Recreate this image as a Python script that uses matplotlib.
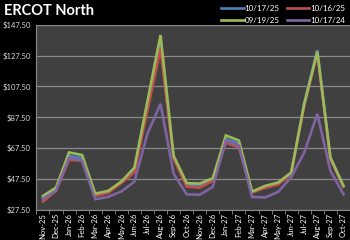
import numpy as np
import matplotlib.pyplot as plt

plt.rcParams['font.family'] = ['Lato', 'DejaVu Sans']

months = ["Nov-25", "Dec-25", "Jan-26", "Feb-26", "Mar-26", "Apr-26", "May-26", "Jun-26",
          "Jul-26", "Aug-26", "Sep-26", "Oct-26", "Nov-26", "Dec-26", "Jan-27", "Feb-27",
          "Mar-27", "Apr-27", "May-27", "Jun-27", "Jul-27", "Aug-27", "Sep-27", "Oct-27"]

s_101725 = [35.5, 41.0, 62.5, 61.0, 37.5, 39.2, 45.5, 53.5, 95.0, 136.0, 61.5, 44.0,
            43.5, 47.5, 73.5, 70.5, 39.2, 42.5, 44.8, 51.5, 97.0, 131.0, 61.0, 42.8]
s_101625 = [33.0, 40.0, 60.0, 59.5, 36.6, 38.6, 45.0, 51.8, 92.0, 132.0, 60.8, 42.7,
            42.0, 46.4, 71.0, 68.1, 38.8, 41.8, 44.0, 51.0, 95.0, 129.0, 60.5, 42.5]
s_091925 = [36.6, 42.0, 64.8, 63.1, 38.1, 39.9, 45.9, 55.0, 98.0, 140.8, 62.7, 44.9,
            44.6, 48.1, 75.8, 72.5, 39.4, 43.1, 45.3, 51.8, 96.3, 130.0, 61.6, 43.1]
s_101724 = [34.7, 39.9, 61.3, 59.4, 34.5, 36.0, 39.5, 45.9, 77.0, 96.3, 51.0, 37.7,
            37.3, 42.5, 72.5, 69.2, 36.0, 35.6, 39.2, 48.8, 64.8, 89.8, 52.9, 37.7]

series = [("10/17/25", s_101725, "#4F81BD"),
          ("10/16/25", s_101625, "#C0504D"),
          ("09/19/25", s_091925, "#9BBB59"),
          ("10/17/24", s_101724, "#8064A2")]

yticks = [27.5, 47.5, 67.5, 87.5, 107.5, 127.5, 147.5]

fig = plt.figure(figsize=(3.5, 2.4), dpi=100, facecolor="black")
ax = fig.add_axes([0.104, 0.125, 0.896, 0.772])
ax.set_facecolor("#404040")

x = np.arange(len(months))
lines = {}
for name, vals, col in series:
    lines[name], = ax.plot(x, vals, color=col, lw=1.9, label=name, solid_joinstyle="miter")

ax.set_xlim(-0.5, len(months) - 0.5)
ax.set_ylim(27.5, 147.5)
ax.set_yticks(yticks)
ax.set_yticklabels(["${:.2f}".format(v) for v in yticks])
ax.yaxis.grid(True, color="#8a8a8a", lw=0.9)
ax.set_axisbelow(True)
ax.tick_params(axis="y", length=0, colors="#d9d9d9", labelsize=5.5, pad=4)

ax.set_xticks(x)
ax.set_xticklabels(months, rotation=90)
ax.set_xticks(np.arange(-0.5, len(months)), minor=True)
ax.tick_params(axis="x", which="major", length=0, colors="white", labelsize=5.5, pad=2)
ax.tick_params(axis="x", which="minor", length=3, color="#8a8a8a")

for side in ["top", "right"]:
    ax.spines[side].set_visible(False)
ax.spines["left"].set_color("#8a8a8a")
ax.spines["bottom"].set_color("#8a8a8a")

fig.text(0.01, 0.955, "ERCOT North", color="white", fontsize=10.5, fontweight="bold",
         va="center", ha="left")

order = ["10/17/25", "09/19/25", "10/16/25", "10/17/24"]
fig.legend([lines[n] for n in order], order, ncol=2, loc="upper right",
           bbox_to_anchor=(1.0, 1.0), frameon=False, fontsize=5.8, labelcolor="white",
           handlelength=2.8, handletextpad=0.1, columnspacing=0.9, labelspacing=0.6,
           borderaxespad=0.2)

fig.savefig("out.png", dpi=100, facecolor="black")
